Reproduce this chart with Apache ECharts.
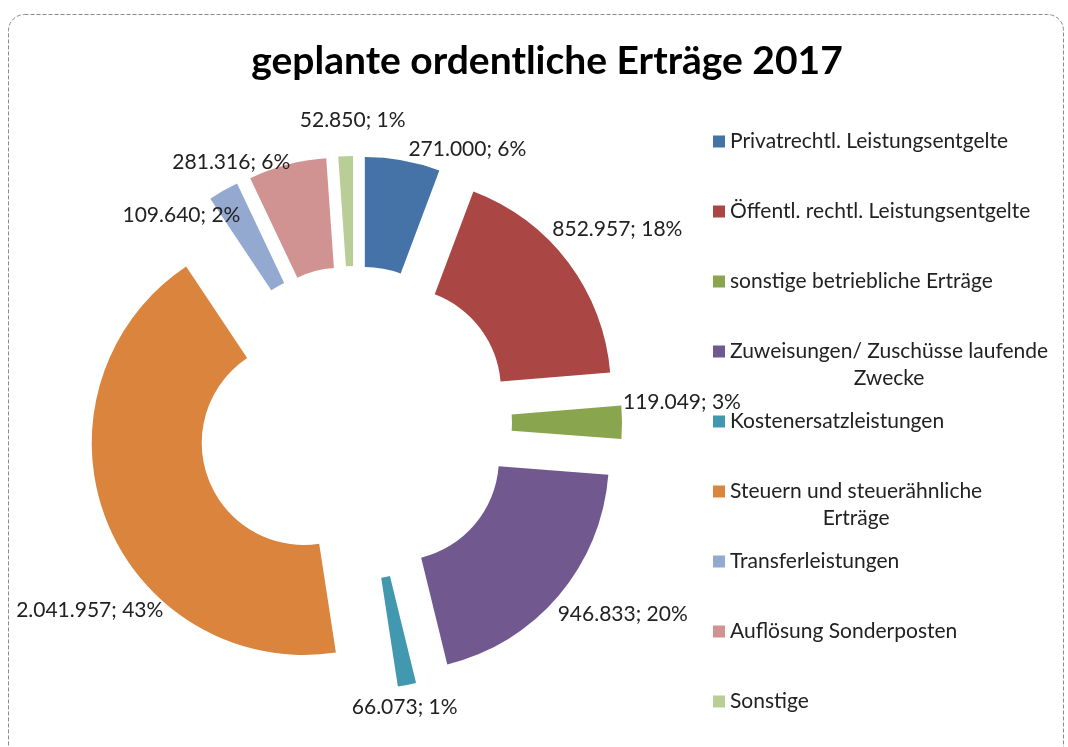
<!DOCTYPE html>
<html>
<head>
<meta charset="utf-8">
<script src="https://cdn.jsdelivr.net/npm/echarts@6/dist/echarts.min.js"></script>
<style>
  html, body { margin: 0; padding: 0; background: #fff; }
  #main { width: 1068px; height: 747px; }
</style>
</head>
<body>
<div id="main"></div>
<script>
// Ertragsarten (Legende)
var categories = [
  'Privatrechtl. Leistungsentgelte',
  'Öffentl. rechtl. Leistungsentgelte',
  'sonstige betriebliche Erträge',
  'Zuweisungen/ Zuschüsse laufende Zwecke',
  'Kostenersatzleistungen',
  'Steuern und steuerähnliche Erträge',
  'Transferleistungen',
  'Auflösung Sonderposten',
  'Sonstige'
];
var values = [271000, 852957, 119049, 946833, 66073, 2041957, 109640, 281316, 52850];
var colors = ['#4572A7', '#AA4643', '#89A54E', '#71588F', '#4198AF', '#DB843D', '#93A9CF', '#D19392', '#B9CD96'];

// labels were dragged by hand in the original, nudge them from the default 'outside' spot
var labelShift = [[0, -7], [-24, -31], [-8, -20], [-9, 16], [-61, 18], [66, 89], [24, 28], [9, 1], [65, -32]];

var total = values.reduce(function (a, b) { return a + b; }, 0);

function fmtNum(v) {
  return String(v).replace(/\B(?=(\d{3})+(?!\d))/g, '.');
}

// legend names that wrap onto a second, centred line
var wrapAt = {
  'Zuweisungen/ Zuschüsse laufende Zwecke': 'Zuweisungen/ Zuschüsse laufende',
  'Steuern und steuerähnliche Erträge': 'Steuern und steuerähnliche'
};

var chart = echarts.init(document.getElementById('main'), null, { renderer: 'canvas' });

var txt = { fontFamily: 'Lato', fontSize: 21, color: '#222' };

var option = {
  backgroundColor: '#fff',
  animation: false,
  color: colors,
  title: {
    text: 'geplante ordentliche Erträge 2017',
    left: 542,
    textAlign: 'center',
    top: 37,
    textStyle: {
      fontFamily: 'Lato',
      fontWeight: 'bold',
      fontSize: 39,
      color: '#000'
    }
  },
  graphic: [{
    type: 'rect',
    shape: { x: 8.5, y: 14.5, width: 1055, height: 760, r: 16 },
    style: { fill: null, stroke: '#8a8a8a', lineWidth: 1, lineDash: [4, 2] },
    silent: true
  }],
  legend: {
    orient: 'vertical',
    left: 713,
    top: 131,
    padding: 0,
    itemWidth: 12,
    itemHeight: 12,
    itemGap: 22,
    icon: 'rect',
    selectedMode: false,
    data: categories,
    formatter: function (name) {
      if (wrapAt[name]) {
        return '{a|' + wrapAt[name] + '}\n{b|' + name.slice(wrapAt[name].length + 1) + '}';
      }
      // invisible second line keeps every item the same height
      return '{a|' + name + '}\n{c|.}';
    },
    textStyle: {
      fontFamily: 'Lato',
      fontSize: 21,
      color: '#222',
      rich: {
        a: { fontFamily: 'Lato', fontSize: 21, color: '#222', lineHeight: 27 },
        b: { fontFamily: 'Lato', fontSize: 21, color: '#222', lineHeight: 0, align: 'center', padding: [27, 0, 0, 0] },
        c: { fontFamily: 'Lato', fontSize: 21, color: 'rgba(0,0,0,0)', lineHeight: 0, padding: [27, 0, 0, 0] }
      }
    }
  },
  series: [{
    name: 'Erträge 2017',
    type: 'pie',
    center: [355, 423],
    radius: [102, 212],
    startAngle: 90,
    clockwise: true,
    selectedMode: 'multiple',
    selectedOffset: 55,
    avoidLabelOverlap: false,
    emphasis: { disabled: true },
    label: {
      show: true,
      position: 'outside',
      fontFamily: txt.fontFamily,
      fontSize: txt.fontSize,
      color: txt.color,
      formatter: function (p) {
        return fmtNum(p.value) + '; ' + Math.round(p.value / total * 100) + '%';
      }
    },
    labelLine: { show: false, length: 4, length2: 0 },
    labelLayout: function (p) {
      var s = labelShift[p.dataIndex];
      return { dx: s[0], dy: s[1], hideOverlap: false };
    },
    data: categories.map(function (c, i) {
      return { name: c, value: values[i], selected: true };
    })
  }]
};

chart.setOption(option);
</script>
</body>
</html>
